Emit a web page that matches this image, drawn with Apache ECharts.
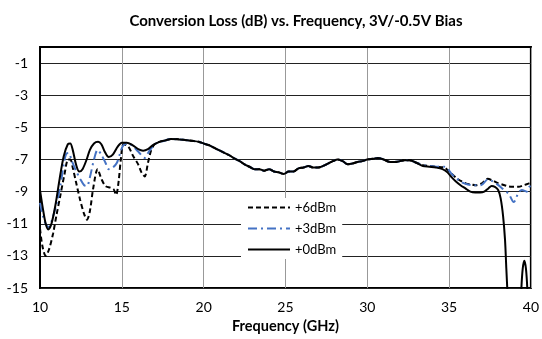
<!DOCTYPE html>
<html>
<head>
<meta charset="utf-8">
<script src="https://cdn.jsdelivr.net/npm/echarts@6/dist/echarts.min.js"></script>
<style>
html,body{margin:0;padding:0;background:#fff;}
#chart{width:542px;height:339px;}
</style>
</head>
<body>
<div id="chart"></div>
<script>
// ---- data ----
var seriesNames = ['+6dBm', '+3dBm', '+0dBm'];

// shared mid band (all three curves overlap here)
var midFreq = [17.7, 18.0, 18.5, 19.0, 19.4, 19.7, 20.0, 20.3, 20.6, 21.0, 21.3, 21.6, 21.9, 22.2, 22.5, 22.8, 23.1, 23.4, 23.7, 24.0, 24.3, 24.6, 24.9, 25.2, 25.5, 25.8, 26.1, 26.4, 26.7, 27.0, 27.3, 27.6, 27.9, 28.2, 28.5, 28.8, 29.1, 29.4, 29.7, 30.0, 30.35, 30.65, 31.0, 31.4, 31.7, 32.0, 32.3, 32.6, 33.0];
var midLoss = [-5.8, -5.72, -5.75, -5.8, -5.85, -5.9, -6.0, -6.1, -6.25, -6.45, -6.6, -6.75, -6.95, -7.1, -7.3, -7.45, -7.6, -7.6, -7.7, -7.6, -7.75, -7.8, -7.9, -7.75, -7.75, -7.55, -7.5, -7.4, -7.5, -7.5, -7.4, -7.25, -7.1, -7.0, -7.1, -7.3, -7.25, -7.15, -7.1, -7.0, -6.95, -6.9, -7.0, -7.15, -7.15, -7.1, -7.05, -7.05, -7.2];

// +6dBm
var lowFreq6 = [10.0, 10.15, 10.35, 10.55, 10.8, 11.0, 11.25, 11.5, 11.72, 11.86, 12.0, 12.2, 12.45, 12.7, 12.87, 13.05, 13.25, 13.52, 13.75, 14.0, 14.3, 14.5, 14.65, 14.8, 14.95, 15.1, 15.4, 15.7, 16.0, 16.2, 16.4, 16.6, 16.8, 17.0, 17.3];
var lowLoss6 = [-11.3, -12.4, -13.0, -12.6, -11.6, -10.5, -9.2, -7.9, -7.0, -7.0, -7.5, -8.4, -9.5, -10.4, -10.75, -10.2, -8.8, -7.6, -8.2, -8.65, -8.75, -8.85, -9.2, -8.4, -6.9, -6.05, -6.2, -6.8, -7.3, -7.8, -8.05, -7.2, -6.4, -6.05, -5.9];
var highFreq6 = [33.4, 33.8, 34.2, 34.7, 35.05, 35.45, 35.75, 36.05, 36.35, 36.65, 37.05, 37.35, 37.65, 37.95, 38.25, 38.55, 38.85, 39.25, 39.55, 39.85, 40.0];
var highLoss6 = [-7.35, -7.4, -7.45, -7.5, -7.8, -8.15, -8.35, -8.5, -8.55, -8.6, -8.45, -8.2, -8.3, -8.45, -8.55, -8.65, -8.7, -8.7, -8.6, -8.5, -8.45];

// +3dBm
var lowFreq3 = [10.0, 10.2, 10.4, 10.55, 10.75, 11.0, 11.25, 11.45, 11.6, 11.75, 11.95, 12.2, 12.45, 12.7, 12.87, 13.05, 13.3, 13.52, 13.75, 14.0, 14.2, 14.45, 14.7, 14.9, 15.1, 15.4, 15.7, 16.0, 16.4, 16.6, 16.8, 17.1, 17.4];
var lowLoss3 = [-9.7, -10.6, -11.1, -11.2, -10.7, -9.8, -8.6, -7.3, -6.65, -6.6, -7.1, -7.7, -8.2, -8.6, -8.65, -8.1, -7.0, -6.4, -6.7, -7.2, -7.6, -7.5, -7.2, -6.6, -6.1, -6.0, -6.2, -6.5, -6.9, -6.6, -6.3, -6.0, -5.9];
var highFreq3 = [33.4, 33.8, 34.2, 34.7, 35.25, 35.55, 35.85, 36.15, 36.45, 36.95, 37.35, 37.65, 37.95, 38.25, 38.65, 38.95, 39.25, 39.45, 39.75, 39.9, 40.0];
var highLoss3 = [-7.35, -7.4, -7.45, -7.45, -8.0, -8.25, -8.45, -8.55, -8.6, -8.6, -8.25, -8.35, -8.55, -8.8, -9.15, -9.65, -9.05, -8.9, -9.0, -8.7, -8.65];

// +0dBm
var lowFreq0 = [10.0, 10.2, 10.35, 10.5, 10.7, 10.95, 11.2, 11.45, 11.7, 11.85, 12.0, 12.2, 12.4, 12.6, 12.85, 13.05, 13.3, 13.55, 13.75, 13.95, 14.2, 14.45, 14.75, 15.0, 15.3, 15.65, 16.0, 16.3, 16.6, 16.9, 17.3];
var lowLoss0 = [-8.9, -10.2, -11.0, -11.35, -11.0, -9.8, -8.2, -6.8, -6.05, -6.0, -6.4, -7.3, -7.75, -7.6, -7.0, -6.4, -6.0, -5.9, -6.05, -6.5, -6.85, -6.7, -6.2, -5.95, -5.95, -6.1, -6.35, -6.45, -6.35, -6.1, -5.9];
var highFreq0 = [33.4, 33.8, 34.2, 34.6, 34.9, 35.15, 35.4, 35.7, 36.0, 36.3, 36.6, 36.9, 37.15, 37.4, 37.6, 37.8, 38.0, 38.15, 38.3, 38.42, 38.5, 38.58, 38.7, 39.3, 39.42, 39.5, 39.6, 39.7, 39.78, 39.9, 40.0];
var highLoss0 = [-7.4, -7.45, -7.5, -7.6, -7.8, -8.1, -8.35, -8.6, -8.8, -9.0, -9.05, -9.05, -9.0, -8.8, -8.65, -8.7, -8.9, -9.4, -10.5, -12.0, -13.8, -15.5, -18, -18, -15, -13.8, -13.3, -13.8, -15, -18, -18];

var xTicks = [10, 15, 20, 25, 30, 35, 40];
var yTicks = [-15, -13, -11, -9, -7, -5, -3, -1];

function pairs(fs, ls) {
  var out = [];
  for (var k = 0; k < fs.length; k++) {
    var f = fs[k], l = ls[k];
    for (var i = 0; i < f.length; i++) out.push([f[i], l[i]]);
  }
  return out;
}

var font = 'Lato, "Liberation Sans", sans-serif';
var chart = echarts.init(document.getElementById('chart'), null, {renderer: 'canvas'});
chart.setOption({
  animation: false,
  backgroundColor: '#fff',
  title: {
    text: 'Conversion Loss (dB) vs. Frequency, 3V/-0.5V Bias',
    left: 291, top: 9, textAlign: 'center',
    textStyle: {fontFamily: font, fontSize: 15, fontWeight: 'bold', color: '#000'}
  },
  grid: {left: 40, right: 6, top: 47, bottom: 48, show: true, borderColor: '#000', borderWidth: 2, backgroundColor: 'transparent'},
  legend: {
    orient: 'vertical', left: 241, top: 198,
    backgroundColor: '#fff', padding: [3, 6, 3, 6],
    itemWidth: 42, itemHeight: 12, itemGap: 8,
    itemStyle: {opacity: 0},
    textStyle: {fontFamily: font, fontSize: 13, color: '#000'},
    data: seriesNames
  },
  xAxis: {
    type: 'value', min: 10, max: 40, interval: 5,
    name: 'Frequency (GHz)', nameLocation: 'middle', nameGap: 29,
    nameTextStyle: {fontFamily: font, fontSize: 14.5, fontWeight: 'bold', color: '#000'},
    axisLine: {show: true, lineStyle: {color: '#000', width: 2}},
    axisTick: {show: false},
    axisLabel: {fontFamily: font, fontSize: 14, color: '#000', margin: 12,
      customValues: xTicks},
    splitLine: {show: true, lineStyle: {color: '#999', width: 1}}
  },
  yAxis: {
    type: 'value', min: -15, max: 0,
    axisLine: {show: true, lineStyle: {color: '#000', width: 2}},
    axisTick: {show: false, customValues: yTicks},
    axisLabel: {fontFamily: font, fontSize: 14, color: '#000', margin: 12, customValues: yTicks},
    splitLine: {show: true, lineStyle: {color: '#222', width: 1}}
  },
  series: [
    {name: seriesNames[0], type: 'line', symbol: 'none', smooth: 0.3, clip: true,
      lineStyle: {color: '#000', width: 2, type: [5, 3]}, itemStyle: {color: '#000'},
      data: pairs([lowFreq6, midFreq, highFreq6], [lowLoss6, midLoss, highLoss6])},
    {name: seriesNames[1], type: 'line', symbol: 'none', smooth: 0.3, clip: true,
      lineStyle: {color: '#4472C4', width: 2, type: [9, 4, 2, 4]}, itemStyle: {color: '#4472C4'},
      data: pairs([lowFreq3, midFreq, highFreq3], [lowLoss3, midLoss, highLoss3])},
    {name: seriesNames[2], type: 'line', symbol: 'none', smooth: 0.3, clip: true,
      lineStyle: {color: '#000', width: 2}, itemStyle: {color: '#000'},
      data: pairs([lowFreq0, midFreq, highFreq0], [lowLoss0, midLoss, highLoss0])}
  ]
});
</script>
</body>
</html>
